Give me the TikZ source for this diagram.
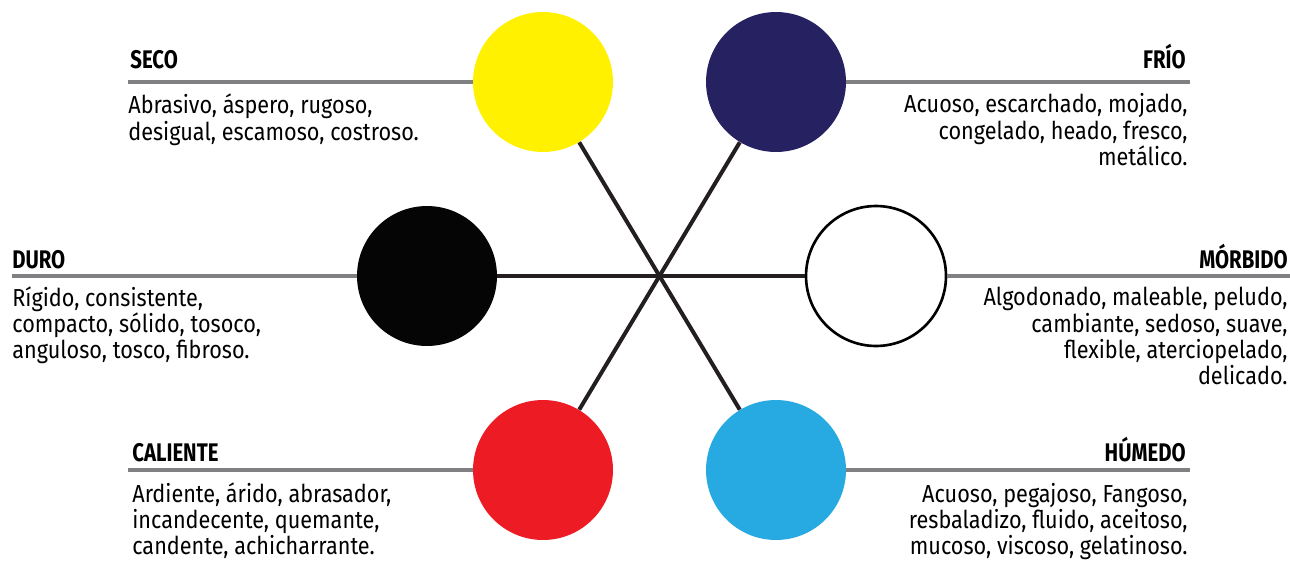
\documentclass[tikz,border=0pt]{standalone}
\usepackage{fontspec}
\setmainfont[FakeStretch=0.88]{Fira Sans}
\newfontfamily\titlefont[FakeStretch=0.8]{Fira Sans}
\usetikzlibrary{positioning}
\definecolor{amarillo}{RGB}{255,241,0}
\definecolor{marino}{RGB}{38,34,98}
\definecolor{negro}{RGB}{5,5,5}
\definecolor{rojo}{RGB}{237,28,36}
\definecolor{celeste}{RGB}{39,170,225}
\definecolor{regla}{RGB}{128,128,131}
\definecolor{radio}{RGB}{35,31,32}

\begin{document}
\begin{tikzpicture}[x=0.02cm, y=-0.02cm,
		dot/.style={circle, minimum size=2.8cm, inner sep=0pt},
		rule/.style={line width=0.09cm, regla},
		spoke/.style={line width=0.08cm, radio},
		title/.style={font=\titlefont\bfseries\fontsize{14.5}{15}\selectfont, inner sep=0pt},
		desc/.style={font=\fontsize{14}{14.8}\selectfont, inner sep=0pt}]
		
		\useasboundingbox (0,0) rectangle (1290,561);
		
		\node[dot, fill=amarillo] (Seco) at (543,82) {};
		\node[dot, fill=marino] (Frio) at (776,82) {};
		\node[dot, fill=negro] (Duro) at (427,276) {};
		\node[dot, fill=white, draw=black, line width=1.5pt] (Morbido) at (876,276) {};
		\node[dot, fill=rojo] (Caliente) at (543,470) {};
		\node[dot, fill=celeste] (Humedo) at (776,470) {};
		
		\draw[spoke] (Seco) -- (Humedo);
		\draw[spoke] (Frio) -- (Caliente);
		\draw[spoke] (Duro) -- (Morbido);
		
		\coordinate (SecoEnd) at (128,82);
		\coordinate (FrioEnd) at (1190,82);
		\coordinate (DuroEnd) at (12,276);
		\coordinate (MorbidoEnd) at (1290,276);
		\coordinate (CalienteEnd) at (128,470);
		\coordinate (HumedoEnd) at (1190,470);
		
		\draw[rule] (SecoEnd) -- (Seco.west);
		\draw[rule] (FrioEnd) -- (Frio.east);
		\draw[rule] (DuroEnd) -- (Duro.west);
		\draw[rule] (MorbidoEnd) -- (Morbido.east);
		\draw[rule] (CalienteEnd) -- (Caliente.west);
		\draw[rule] (HumedoEnd) -- (Humedo.east);
		
		\node[title, anchor=base west] (SecoTitle) at (130,68) {SECO};
		\node[desc, anchor=base west, align=left] (SecoText) at (128,140)
		{Abrasivo, áspero, rugoso,\\ desigual, escamoso, costroso.};
		
		\node[title, anchor=base east] (FrioTitle) at (1186,68) {FRÍO};
		\node[desc, anchor=base east, align=right] (FrioText) at (1188,165)
		{Acuoso, escarchado, mojado,\\ congelado, heado, fresco,\\ metálico.};
		
		\node[title, anchor=base west] (DuroTitle) at (12,268) {DURO};
		\node[desc, anchor=base west, align=left] (DuroText) at (12,358)
		{Rígido, consistente,\\ compacto, sólido, tosoco,\\ anguloso, tosco, fibroso.};
		
		\node[title, anchor=base east] (MorbidoTitle) at (1288,268) {MÓRBIDO};
		\node[desc, anchor=base east, align=right] (MorbidoText) at (1288,384)
		{Algodonado, maleable, peludo,\\ cambiante, sedoso, suave,\\ flexible, aterciopelado,\\ delicado.};
		
		\node[title, anchor=base west] (CalienteTitle) at (132,461) {CALIENTE};
		\node[desc, anchor=base west, align=left] (CalienteText) at (132,554)
		{Ardiente, árido, abrasador,\\ incandecente, quemante,\\ candente, achicharrante.};
		
		\node[title, anchor=base east] (HumedoTitle) at (1186,461) {HÚMEDO};
		\node[desc, anchor=base east, align=right] (HumedoText) at (1188,554)
		{Acuoso, pegajoso, Fangoso,\\ resbaladizo, fluido, aceitoso,\\ mucoso, viscoso, gelatinoso.};
		
	\end{tikzpicture}
\end{document}
